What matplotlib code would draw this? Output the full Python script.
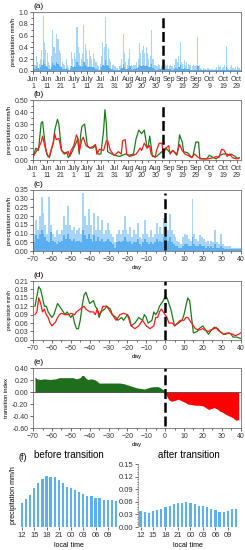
import numpy as np
import matplotlib
matplotlib.use('Agg')
import matplotlib.pyplot as plt
from matplotlib.ticker import MultipleLocator

plt.rcParams['font.family'] = ['Liberation Sans', 'DejaVu Sans']

# ---- data ----
# (a) hourly precip, summarised per day (Jun 1 = day 0): spike height and dense part
a_peak = [0.05, 0.10, 0.25, 0.15, 0.12, 0.20, 0.35, 0.93, 0.50, 0.35,
          0.30, 0.15, 0.10, 0.25, 0.70, 0.40, 0.30, 0.62, 0.55, 0.35,
          0.30, 0.15, 0.12, 0.10, 0.20, 0.10, 0.05, 0.08, 0.32, 0.20,
          0.30, 0.20, 0.75, 0.40, 0.30, 0.20, 0.30, 0.78, 0.45, 0.35,
          0.20, 0.35, 0.25, 0.20, 0.30, 0.20, 0.15, 0.10, 0.08, 0.12,
          0.25, 0.50, 0.40, 0.92, 0.45, 0.38, 0.20, 0.15, 0.10, 0.10,
          0.08, 0.05, 0.05, 0.08, 0.10, 0.20, 0.63, 0.30, 0.15, 0.10,
          0.20, 0.38, 0.10, 0.08, 0.10, 0.10, 0.15, 0.20, 0.48, 0.30,
          0.35, 0.43, 0.30, 0.40, 0.30, 0.20, 0.25, 0.70, 0.20, 0.10,
          0.10, 0.08, 0.12, 0.10, 0.08, 0.10, 0.15, 0.10, 0.08, 0.10,
          0.08, 0.10, 0.08, 0.05, 0.10, 0.20, 0.15, 0.25, 0.50, 0.15,
          0.12, 0.18, 0.10, 0.16, 0.12, 0.10, 0.10, 0.08, 0.10, 0.08,
          0.10, 0.58, 0.10, 0.05, 0.04, 0.05, 0.03, 0.04, 0.05, 0.05,
          0.04, 0.03, 0.03, 0.02, 0.04, 0.06, 0.10, 0.06, 0.08, 0.05,
          0.06, 0.10, 0.42, 0.05, 0.04, 0.06, 0.10, 0.05, 0.04, 0.06,
          0.08, 0.05, 0.05]
a_base = [0.02, 0.04, 0.08, 0.05, 0.04, 0.06, 0.10, 0.18, 0.12, 0.08,
          0.07, 0.04, 0.03, 0.06, 0.14, 0.10, 0.08, 0.15, 0.12, 0.09,
          0.07, 0.04, 0.03, 0.03, 0.05, 0.03, 0.02, 0.03, 0.08, 0.06,
          0.08, 0.06, 0.15, 0.10, 0.08, 0.06, 0.08, 0.16, 0.10, 0.08,
          0.06, 0.08, 0.06, 0.06, 0.07, 0.05, 0.04, 0.03, 0.02, 0.03,
          0.06, 0.10, 0.09, 0.18, 0.10, 0.08, 0.05, 0.04, 0.03, 0.02,
          0.02, 0.02, 0.02, 0.02, 0.03, 0.05, 0.12, 0.07, 0.04, 0.03,
          0.05, 0.08, 0.03, 0.02, 0.03, 0.03, 0.05, 0.07, 0.10, 0.08,
          0.09, 0.10, 0.08, 0.10, 0.08, 0.06, 0.07, 0.12, 0.05, 0.03,
          0.02, 0.02, 0.03, 0.03, 0.03, 0.03, 0.04, 0.03, 0.03, 0.03,
          0.03, 0.03, 0.02, 0.02, 0.03, 0.05, 0.04, 0.06, 0.10, 0.04,
          0.04, 0.05, 0.03, 0.04, 0.03, 0.03, 0.02, 0.02, 0.02, 0.02,
          0.02, 0.08, 0.02, 0.01, 0.01, 0.01, 0.01, 0.01, 0.01, 0.01,
          0.01, 0.01, 0.01, 0.01, 0.01, 0.02, 0.02, 0.02, 0.02, 0.01,
          0.02, 0.02, 0.06, 0.01, 0.01, 0.02, 0.02, 0.01, 0.01, 0.02,
          0.02, 0.01, 0.01]

date_ticks = [0, 10, 20, 30, 40, 50, 60, 70, 80, 90, 100, 110, 120, 130, 140, 150]
date_labels = ['Jun\n1', 'Jun\n11', 'Jun\n21', 'July\n1', 'July\n11', 'Jul\n21',
               'Jul\n31', 'Aug\n10', 'Aug\n20', 'Aug\n30', 'Sep\n9', 'Sep\n19',
               'Sep\n29', 'Oct\n9', 'Oct\n19', 'Oct\n29']
transition_date = 95.5

# (b) daily series, green and red
b_green_day = [0, 2, 4, 5, 6, 7, 9, 10, 12, 15, 16, 18, 19, 21, 23, 25, 26, 28, 30, 32,
               33, 34, 35, 36, 38, 40, 42, 44, 46, 47, 48, 50, 51, 52, 53, 54, 55, 58,
               60, 64, 68, 71, 74, 76, 78, 80, 82, 84, 85, 86, 87, 88, 91, 93, 96, 98,
               101, 103, 106, 107, 108, 110, 111, 114, 117, 118, 120, 122, 123, 128,
               130, 133, 135, 138, 140, 143, 145, 146, 149, 151, 152]
b_green_val = [0.02, 0.10, 0.08, 0.20, 0.31, 0.32, 0.12, 0.05, 0.02, 0.15, 0.25, 0.34,
               0.30, 0.08, 0.05, 0.06, 0.02, 0.05, 0.10, 0.15, 0.18, 0.05, 0.20, 0.28,
               0.30, 0.12, 0.10, 0.10, 0.12, 0.08, 0.05, 0.05, 0.15, 0.25, 0.42, 0.30,
               0.07, 0.05, 0.04, 0.03, 0.05, 0.04, 0.05, 0.18, 0.25, 0.22, 0.25, 0.10,
               0.12, 0.20, 0.12, 0.03, 0.03, 0.05, 0.08, 0.10, 0.06, 0.08, 0.04, 0.10,
               0.21, 0.15, 0.07, 0.06, 0.02, 0.04, 0.15, 0.15, 0.01, 0.01, 0.04, 0.02,
               0.01, 0.04, 0.05, 0.05, 0.04, 0.05, 0.03, 0.01, 0.02]
b_red_day = [0, 4, 6, 7, 9, 11, 12, 15, 16, 17, 19, 21, 23, 26, 27, 28, 30, 32, 33, 34,
             36, 37, 39, 42, 45, 46, 47, 49, 52, 54, 55, 57, 59, 60, 63, 65, 66, 68, 69,
             71, 74, 76, 79, 80, 82, 84, 86, 87, 90, 91, 93, 95, 96, 98, 100, 101, 103,
             106, 108, 110, 112, 114, 117, 119, 122, 125, 129, 133, 135, 137, 139, 141,
             143, 145, 147, 150, 152]
b_red_val = [0.03, 0.10, 0.15, 0.20, 0.10, 0.03, 0.03, 0.15, 0.22, 0.17, 0.18, 0.08,
             0.06, 0.07, 0.03, 0.08, 0.12, 0.21, 0.18, 0.07, 0.17, 0.19, 0.12, 0.10,
             0.12, 0.13, 0.05, 0.09, 0.08, 0.16, 0.16, 0.08, 0.05, 0.04, 0.07, 0.05,
             0.16, 0.17, 0.05, 0.03, 0.04, 0.05, 0.10, 0.08, 0.14, 0.10, 0.12, 0.05,
             0.02, 0.08, 0.14, 0.14, 0.05, 0.10, 0.12, 0.05, 0.08, 0.05, 0.13, 0.08,
             0.05, 0.04, 0.02, 0.05, 0.02, 0.01, 0.01, 0.02, 0.03, 0.02, 0.09, 0.08,
             0.03, 0.05, 0.02, 0.01, 0.02]

# (c) composite relative to transition day (-70 .. 39), spike height and dense part
c_peak = [0.10, 0.18, 0.12, 0.20, 0.31, 0.22, 0.15, 0.10, 0.31, 0.15,
          0.10, 0.08, 0.12, 0.10, 0.10, 0.12, 0.20, 0.15, 0.26, 0.15,
          0.12, 0.14, 0.10, 0.12, 0.13, 0.10, 0.33, 0.20, 0.15, 0.24,
          0.15, 0.10, 0.22, 0.12, 0.20, 0.12, 0.18, 0.10, 0.12, 0.16,
          0.12, 0.10, 0.08, 0.05, 0.10, 0.12, 0.10, 0.12, 0.20, 0.12,
          0.10, 0.14, 0.08, 0.12, 0.10, 0.16, 0.08, 0.07, 0.10, 0.18,
          0.10, 0.08, 0.12, 0.08, 0.10, 0.16, 0.10, 0.14, 0.10, 0.19,
          0.17, 0.12, 0.21, 0.12, 0.10, 0.08, 0.06, 0.05, 0.04, 0.08,
          0.10, 0.09, 0.07, 0.06, 0.30, 0.10, 0.07, 0.06, 0.09, 0.08,
          0.07, 0.05, 0.06, 0.04, 0.06, 0.05, 0.12, 0.05, 0.04, 0.10,
          0.04, 0.03, 0.03, 0.03, 0.03, 0.02, 0.02, 0.02, 0.015, 0.015]
c_base = [0.05, 0.09, 0.07, 0.10, 0.12, 0.10, 0.08, 0.06, 0.05, 0.11,
          0.06, 0.05, 0.04, 0.06, 0.05, 0.06, 0.09, 0.07, 0.10, 0.07,
          0.06, 0.07, 0.05, 0.06, 0.06, 0.05, 0.12, 0.09, 0.07, 0.10,
          0.07, 0.05, 0.09, 0.06, 0.08, 0.06, 0.07, 0.05, 0.06, 0.07,
          0.06, 0.05, 0.04, 0.02, 0.05, 0.06, 0.05, 0.06, 0.08, 0.06,
          0.05, 0.06, 0.04, 0.05, 0.05, 0.07, 0.04, 0.03, 0.05, 0.07,
          0.05, 0.04, 0.05, 0.04, 0.05, 0.07, 0.05, 0.06, 0.05, 0.08,
          0.09, 0.06, 0.08, 0.05, 0.04, 0.03, 0.03, 0.02, 0.02, 0.03,
          0.04, 0.04, 0.03, 0.03, 0.08, 0.04, 0.03, 0.03, 0.04, 0.03,
          0.03, 0.02, 0.03, 0.02, 0.03, 0.02, 0.04, 0.02, 0.02, 0.03,
          0.02, 0.01, 0.01, 0.01, 0.01, 0.01, 0.01, 0.01, 0.01, 0.01]

# (d) composite daily series
d_green_day = [-69, -67, -66, -64, -63, -62, -60, -59, -58, -57, -55, -53, -52, -50, -49,
               -48, -47, -46, -45, -44, -43, -42, -41, -40, -38, -37, -36, -35, -34, -32,
               -31, -29, -28, -26, -25, -23, -22, -20, -19, -18, -16, -15, -14, -12, -11,
               -10, -9, -7, -6, -5, -4, -3, -1, 0, 1, 2, 3, 4, 5, 7, 9, 10, 12, 13, 14,
               15, 17, 18, 20, 21, 22, 23, 24, 26, 28, 29, 31, 32, 34, 35, 36, 38, 40]
d_green_val = [0.12, 0.19, 0.18, 0.12, 0.12, 0.10, 0.08, 0.09, 0.11, 0.13, 0.11, 0.09,
               0.10, 0.08, 0.09, 0.06, 0.04, 0.04, 0.07, 0.12, 0.16, 0.17, 0.15, 0.13,
               0.14, 0.12, 0.11, 0.08, 0.10, 0.11, 0.12, 0.11, 0.09, 0.08, 0.07, 0.08,
               0.07, 0.09, 0.08, 0.05, 0.06, 0.07, 0.08, 0.07, 0.09, 0.08, 0.06, 0.07,
               0.10, 0.09, 0.10, 0.12, 0.14, 0.155, 0.15, 0.13, 0.11, 0.08, 0.05, 0.06,
               0.07, 0.09, 0.15, 0.14, 0.08, 0.025, 0.03, 0.04, 0.05, 0.04, 0.03, 0.02,
               0.03, 0.045, 0.04, 0.03, 0.02, 0.02, 0.025, 0.02, 0.01, 0.01, 0.005]
d_red_day = [-69, -68, -67, -66, -65, -64, -63, -62, -61, -60, -58, -57, -56, -55, -53,
             -51, -50, -48, -47, -45, -43, -42, -40, -38, -37, -36, -35, -34, -33, -31,
             -30, -28, -26, -25, -24, -22, -20, -19, -18, -16, -15, -14, -12, -11, -10,
             -8, -6, -5, -4, -3, -2, -1, 0, 1, 2, 4, 5, 8, 10, 11, 12, 13, 15, 16, 18,
             20, 21, 23, 24, 26, 27, 28, 30, 31, 33, 36, 37, 39, 40]
d_red_val = [0.09, 0.10, 0.15, 0.13, 0.10, 0.11, 0.09, 0.08, 0.06, 0.05, 0.065, 0.08,
             0.09, 0.095, 0.09, 0.09, 0.095, 0.09, 0.10, 0.11, 0.12, 0.11, 0.10, 0.10,
             0.09, 0.11, 0.09, 0.10, 0.12, 0.12, 0.11, 0.09, 0.07, 0.08, 0.09, 0.095,
             0.09, 0.07, 0.05, 0.04, 0.045, 0.05, 0.07, 0.06, 0.05, 0.04, 0.05, 0.08,
             0.08, 0.10, 0.11, 0.10, 0.09, 0.08, 0.06, 0.06, 0.05, 0.07, 0.07, 0.08,
             0.08, 0.07, 0.05, 0.04, 0.035, 0.04, 0.035, 0.03, 0.035, 0.04, 0.045,
             0.035, 0.025, 0.02, 0.025, 0.02, 0.015, 0.02, 0.025]

# (e) transition index
e_pos_day = [-69, -68, -66, -64, -61, -58, -56, -52, -49, -47, -45, -44, -43, -42, -41,
             -39, -37, -36, -35, -34, -31, -27, -24, -22, -20, -19, -17, -15, -13, -11,
             -10, -8, -6, -4, -3, -2, -1, 0]
e_pos_val = [0.25, 0.22, 0.21, 0.22, 0.21, 0.22, 0.24, 0.24, 0.24, 0.22, 0.24, 0.28,
             0.27, 0.23, 0.21, 0.22, 0.20, 0.18, 0.15, 0.15, 0.15, 0.15, 0.15, 0.14,
             0.12, 0.11, 0.09, 0.07, 0.06, 0.05, 0.06, 0.08, 0.09, 0.09, 0.08, 0.06,
             0.04, 0.0]
e_neg_day = [0, 1, 2, 3, 4, 5, 7, 9, 11, 12, 14, 16, 18, 20, 21, 23, 24, 26, 28, 29, 30,
             32, 34, 36, 37, 38, 39]
e_neg_val = [0.0, -0.08, -0.13, -0.15, -0.15, -0.14, -0.12, -0.15, -0.18, -0.20, -0.21,
             -0.22, -0.22, -0.23, -0.25, -0.29, -0.28, -0.26, -0.29, -0.32, -0.33, -0.37,
             -0.40, -0.43, -0.46, -0.47, -0.46]

# (f) diurnal cycle, local hour 12 .. 11
hour_labels = ['12', '15', '18', '21', '00', '03', '06', '09']
f_before = [0.058, 0.066, 0.076, 0.092, 0.104, 0.115, 0.122, 0.120, 0.120, 0.112,
            0.106, 0.096, 0.094, 0.087, 0.084, 0.079, 0.074, 0.073, 0.070, 0.068,
            0.065, 0.065, 0.065, 0.061]
f_after = [0.039, 0.035, 0.033, 0.037, 0.041, 0.043, 0.048, 0.050, 0.054, 0.056,
           0.057, 0.059, 0.058, 0.054, 0.051, 0.049, 0.047, 0.043, 0.041, 0.036,
           0.036, 0.039, 0.042, 0.042]

light_blue = '#a8d4f8'
mid_blue = '#5aaef2'
green = '#1c7a1c'
red = '#ff1a1a'
tick_fs = 5
lab_fs = 4.2


def style(ax):
    for s in ax.spines.values():
        s.set_linewidth(0.5)
        s.set_color('#555555')
    ax.tick_params(labelsize=tick_fs, length=2, width=0.5, pad=1.5, colors='#333333')
    ax.tick_params(which='minor', length=1.2, width=0.4)


def transition(ax, x, y0, y1):
    ax.plot([x, x], [y0, y1], color='black', lw=1.8, dashes=(4.0, 1.5), solid_capstyle='butt')


def panel_label(ax, s):
    ax.text(0.0, 1.03, s, transform=ax.transAxes, fontsize=6, ha='left', va='bottom')


fig = plt.figure(figsize=(2.45, 5.5), dpi=100)

# (a)
ax = fig.add_axes([0.135, 0.871, 0.847, 0.107])
days_a = np.arange(len(a_peak))
ax.bar(days_a, a_peak, width=0.8, align='edge', color=light_blue, linewidth=0)
ax.bar(days_a, a_base, width=1.0, align='edge', color=mid_blue, linewidth=0)
transition(ax, transition_date, 0.03, 0.91)
ax.set_xlim(0, 153)
ax.set_ylim(0, 1.0)
ax.set_yticks(np.arange(0, 1.01, 0.2))
ax.set_yticklabels(['%.1f' % v for v in np.arange(0, 1.01, 0.2)])
ax.yaxis.set_minor_locator(MultipleLocator(0.1))
ax.set_xticks(date_ticks)
ax.set_xticklabels(date_labels, linespacing=1.0)
ax.xaxis.set_minor_locator(MultipleLocator(5))
ax.set_ylabel('precipitation mm/h', fontsize=lab_fs, labelpad=2)
style(ax)
panel_label(ax, '(a)')

# (b)
ax = fig.add_axes([0.135, 0.709, 0.847, 0.109])
ax.plot(b_green_day, b_green_val, color=green, lw=0.9)
ax.plot(b_red_day, b_red_val, color=red, lw=0.9)
transition(ax, transition_date, 0.015, 0.46)
ax.set_xlim(0, 153)
ax.set_ylim(0, 0.5)
ax.set_yticks(np.arange(0, 0.51, 0.1))
ax.set_yticklabels(['%.2f' % v for v in np.arange(0, 0.51, 0.1)])
ax.yaxis.set_minor_locator(MultipleLocator(0.05))
ax.set_xticks(date_ticks)
ax.set_xticklabels(date_labels, linespacing=1.0)
ax.xaxis.set_minor_locator(MultipleLocator(5))
ax.set_ylabel('precipitation mm/h', fontsize=lab_fs, labelpad=2)
style(ax)
panel_label(ax, '(b)')

# (c)
ax = fig.add_axes([0.135, 0.5436, 0.847, 0.111])
days_c = np.arange(-70, -70 + len(c_peak))
ax.bar(days_c, c_peak, width=1.0, align='edge', color=light_blue, linewidth=0)
ax.bar(days_c, c_base, width=1.0, align='edge', color=mid_blue, linewidth=0)
transition(ax, 0, 0.005, 0.33)
ax.set_xlim(-70, 40)
ax.set_ylim(0, 0.35)
ax.set_yticks(np.arange(0, 0.351, 0.05))
ax.set_yticklabels(['%.2f' % v for v in np.arange(0, 0.351, 0.05)])
ax.set_xticks(np.arange(-70, 41, 10))
ax.xaxis.set_minor_locator(MultipleLocator(5))
ax.set_xlabel('day', fontsize=lab_fs + 0.3, labelpad=1.5)
ax.set_ylabel('precipitation mm/h', fontsize=lab_fs, labelpad=2)
style(ax)
panel_label(ax, '(c)')

# (d)
ax = fig.add_axes([0.135, 0.382, 0.847, 0.107])
ax.plot(d_green_day, d_green_val, color=green, lw=0.9)
ax.plot(d_red_day, d_red_val, color=red, lw=0.9)
transition(ax, 0, 0.0, 0.21)
ax.set_xlim(-70, 40)
ax.set_ylim(0, 0.21)
ax.set_yticks(np.arange(0, 0.211, 0.03))
ax.set_yticklabels(['%.2f' % v for v in np.arange(0, 0.211, 0.03)])
ax.set_xticks(np.arange(-70, 41, 10))
ax.xaxis.set_minor_locator(MultipleLocator(5))
ax.set_xlabel('day', fontsize=lab_fs + 0.3, labelpad=1.5)
ax.set_ylabel('precipitation mm/h', fontsize=3.4, labelpad=2)
style(ax)
panel_label(ax, '(d)')

# (e)
ax = fig.add_axes([0.135, 0.2218, 0.847, 0.109])
ax.fill_between(e_pos_day, 0, e_pos_val, color='#1e6e1e', linewidth=0)
ax.fill_between(e_neg_day, 0, e_neg_val, color='#ff0000', linewidth=0)
ax.axhline(0, color='#333333', lw=0.5)
transition(ax, 0, -0.57, 0.40)
ax.set_xlim(-70, 40)
ax.set_ylim(-0.6, 0.4)
ax.set_yticks(np.arange(-0.6, 0.41, 0.2))
ax.set_yticklabels(['%.2f' % v for v in np.arange(-0.6, 0.41, 0.2)])
ax.set_xticks(np.arange(-70, 41, 10))
ax.xaxis.set_minor_locator(MultipleLocator(5))
ax.set_xlabel('day', fontsize=lab_fs + 0.3, labelpad=1.5)
ax.set_ylabel('transition index', fontsize=lab_fs, labelpad=2)
style(ax)
panel_label(ax, '(e)')

# (f)
hours = np.arange(len(f_before))
ax_l = fig.add_axes([0.0816, 0.0418, 0.40, 0.1145])
ax_l.bar(hours, f_before, width=0.55, color='#5cb0f2', linewidth=0)
ax_l.set_xlim(-0.5, 23.5)
ax_l.set_ylim(0, 0.15)
ax_l.set_xticks(hours[::3])
ax_l.set_xticklabels(hour_labels)
ax_l.set_yticks([])
for s in ax_l.spines.values():
    s.set_visible(False)
ax_l.tick_params(labelsize=5.5, length=2, width=0.5, pad=1.5, colors='#333333')
ax_l.set_xlabel('local time', fontsize=5, labelpad=2)
ax_l.set_ylabel('precipitation mm/h', fontsize=5, labelpad=2)
ax_l.set_title('before transition', fontsize=7, pad=4)
ax_l.text(-0.02, 1.04, '(f)', transform=ax_l.transAxes, fontsize=6.5, ha='left', va='bottom')

ax_r = fig.add_axes([0.565, 0.0418, 0.408, 0.1145])
ax_r.bar(hours, f_after, width=0.55, color='#5cb0f2', linewidth=0)
ax_r.set_xlim(-0.5, 23.5)
ax_r.set_ylim(0, 0.15)
ax_r.set_xticks(hours[::3])
ax_r.set_xticklabels(hour_labels)
ax_r.set_yticks(np.arange(0, 0.151, 0.03))
ax_r.set_yticklabels(['%.2f' % v for v in np.arange(0, 0.151, 0.03)])
ax_r.yaxis.set_minor_locator(MultipleLocator(0.006))
for k in ['top', 'right', 'bottom']:
    ax_r.spines[k].set_visible(False)
ax_r.spines['left'].set_linewidth(0.4)
ax_r.spines['left'].set_color('#777777')
ax_r.tick_params(labelsize=5.5, length=2, width=0.5, pad=1.5, colors='#333333')
ax_r.tick_params(which='minor', length=1.0, width=0.4)
ax_r.set_xlabel('local time', fontsize=5, labelpad=2)
ax_r.set_title('after transition', fontsize=7, pad=4)

fig.savefig('out.png', dpi=100)
